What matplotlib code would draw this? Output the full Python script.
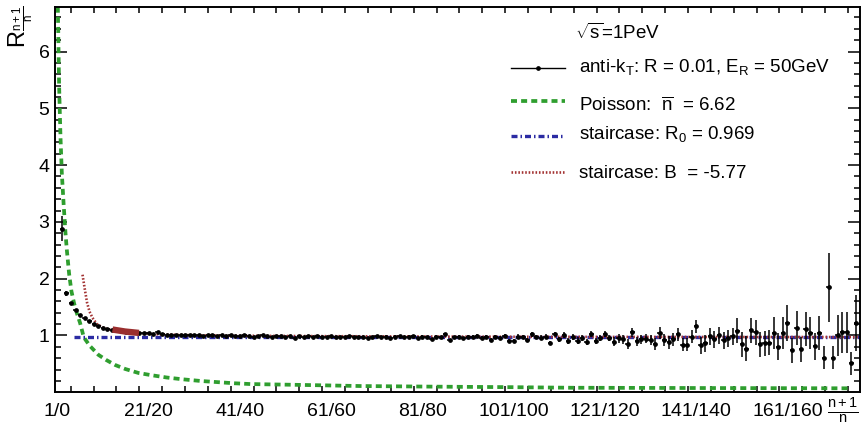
import numpy as np
import matplotlib
matplotlib.use('Agg')
import matplotlib.pyplot as plt

plt.rcParams['font.family'] = 'Liberation Sans'
plt.rcParams['mathtext.fontset'] = 'custom'
plt.rcParams['mathtext.rm'] = 'Liberation Sans'
plt.rcParams['mathtext.it'] = 'Liberation Sans:italic'
plt.rcParams['mathtext.default'] = 'regular'

# bin n holds R_(n+1)/n, bins 1..175
bin_index = np.arange(1, 176)
ratio = [
    2.88, 1.74, 1.57, 1.45, 1.36, 1.30, 1.25, 1.20, 1.16, 1.13,
    1.12, 1.10, 1.09, 1.08, 1.07, 1.07, 1.06, 1.05, 1.05, 1.05,
    1.02, 1.06, 1.02, 1.01, 1.01, 1.00, 1.01, 1.00, 1.00, 1.01,
    1.00, 0.99, 1.00, 1.00, 0.99, 1.00, 0.99, 1.00, 0.99, 0.99,
    1.00, 0.99, 0.98, 0.99, 1.00, 0.99, 0.98, 0.99, 0.99, 0.98,
    0.99, 0.95, 0.99, 0.98, 0.99, 0.98, 0.99, 0.97, 0.98, 0.99,
    0.98, 0.97, 0.98, 0.99, 0.98, 0.97, 0.98, 0.95, 0.98, 0.99,
    0.97, 0.98, 0.96, 0.98, 0.99, 0.97, 0.98, 0.99, 0.96, 0.98,
    0.97, 0.94, 0.98, 0.97, 1.02, 0.92, 0.97, 0.98, 0.96, 0.98,
    0.97, 0.99, 0.96, 0.97, 0.92, 0.98, 0.96, 0.99, 0.91, 0.91,
    0.98, 0.97, 0.92, 1.02, 0.97, 0.96, 0.98, 0.87, 1.03, 0.93,
    1.01, 0.90, 0.97, 0.91, 0.96, 0.89, 1.03, 0.90, 0.96, 1.02,
    0.95, 0.89, 0.95, 0.93, 0.85, 1.06, 0.90, 0.93, 0.94, 0.92,
    0.85, 1.04, 0.92, 0.88, 0.93, 1.02, 0.84, 0.84, 0.98, 1.16,
    0.83, 0.86, 0.99, 0.93, 1.00, 0.92, 0.95, 0.99, 1.08, 0.85,
    0.77, 1.09, 1.06, 0.85, 0.86, 0.87, 1.04, 0.80, 1.04, 1.22,
    0.74, 1.14, 0.76, 1.12, 1.04, 0.81, 1.05, 0.61, 1.85, 0.61,
    1.00, 1.06, 1.06, 0.51, 1.22,
]
ratio_err = [
    0.22, 0.05, 0.01, 0.01, 0.01, 0.01, 0.01, 0.01, 0.01, 0.01,
    0.01, 0.01, 0.01, 0.01, 0.01, 0.01, 0.01, 0.01, 0.01, 0.01,
    0.01, 0.01, 0.01, 0.01, 0.01, 0.01, 0.01, 0.01, 0.01, 0.01,
    0.01, 0.01, 0.01, 0.01, 0.01, 0.01, 0.01, 0.01, 0.01, 0.01,
    0.015, 0.015, 0.015, 0.015, 0.015, 0.015, 0.015, 0.015, 0.015, 0.015,
    0.015, 0.015, 0.015, 0.015, 0.015, 0.015, 0.015, 0.015, 0.015, 0.015,
    0.015, 0.015, 0.015, 0.015, 0.015, 0.015, 0.015, 0.015, 0.015, 0.015,
    0.02, 0.02, 0.02, 0.02, 0.02, 0.02, 0.02, 0.02, 0.02, 0.02,
    0.02, 0.02, 0.02, 0.02, 0.02, 0.02, 0.02, 0.02, 0.02, 0.02,
    0.03, 0.03, 0.03, 0.03, 0.03, 0.03, 0.03, 0.03, 0.03, 0.03,
    0.04, 0.04, 0.04, 0.04, 0.04, 0.04, 0.04, 0.04, 0.04, 0.04,
    0.055, 0.055, 0.055, 0.055, 0.055, 0.055, 0.055, 0.055, 0.055, 0.055,
    0.055, 0.08, 0.08, 0.08, 0.08, 0.08, 0.08, 0.08, 0.08, 0.08,
    0.11, 0.11, 0.11, 0.11, 0.11, 0.11, 0.11, 0.11, 0.11, 0.11,
    0.15, 0.15, 0.15, 0.15, 0.15, 0.15, 0.15, 0.15, 0.22, 0.22,
    0.22, 0.22, 0.22, 0.22, 0.22, 0.22, 0.28, 0.24, 0.28, 0.31,
    0.22, 0.30, 0.22, 0.30, 0.28, 0.24, 0.30, 0.20, 0.61, 0.20,
    0.36, 0.36, 0.36, 0.20, 0.50,
]

# fitted curves
poisson_x = [0.62, 0.9, 1.2, 1.5, 1.9, 2.3, 2.6, 3.1, 3.6, 4.2, 4.8, 5.5, 6.3,
             7.6, 9.5, 11.2, 13.2, 15.4, 18.3, 21.2, 24.5, 27.8, 31.8, 39.0,
             42.8, 53.7, 67, 82, 100, 113, 140, 174.5]
poisson_y = [6.79, 5.4, 4.5, 3.85, 3.3, 2.8, 2.5, 2.08, 1.78, 1.56, 1.39, 1.22,
             0.97, 0.82, 0.66, 0.57, 0.48, 0.41, 0.34, 0.30, 0.26, 0.23, 0.20,
             0.16, 0.145, 0.13, 0.11, 0.10, 0.09, 0.08, 0.075, 0.07]
stair_r0 = 0.969
stair_r0_x = [4.2, 176.5]
stairB_x = [6.03, 6.58, 7.02, 7.57, 8.22, 9.10, 10.20, 11.51, 12.6, 15.35, 18.4,
            23.0, 31.8, 53.7, 86.6, 119.5, 176.5]
stairB_y = [2.07, 1.79, 1.58, 1.42, 1.31, 1.21, 1.15, 1.11, 1.105, 1.07, 1.045,
            1.02, 1.00, 0.99, 0.98, 0.975, 0.972]
fit_x = [12.6, 15.35, 18.4]
fit_y = [1.105, 1.07, 1.045]

tick_bins = [0, 20, 40, 60, 80, 100, 120, 140, 160]
tick_labels = ['1/0', '21/20', '41/40', '61/60', '81/80', '101/100',
               '121/120', '141/140', '161/160']

green = '#2f9e2f'
blue = '#2b2ba3'
brown = '#a33333'
green_dash = (1.6, 1.1)
blue_dash = (1.8, 0.9, 0.45, 0.9)
brown_dash = (0.6, 0.7)

fig = plt.figure(figsize=(8.62, 4.29), dpi=100)
ax = fig.add_axes([55/862, 37/429, 805.5/862, 385.3/429])

ax.plot(poisson_x, poisson_y, color=green, lw=2.7, dashes=green_dash)
ax.plot(stair_r0_x, [stair_r0, stair_r0], color=blue, lw=2.4, dashes=blue_dash)
ax.plot(stairB_x, stairB_y, color=brown, lw=1.9, dashes=brown_dash)

x = bin_index + 0.5
ax.errorbar(x, ratio, yerr=ratio_err, xerr=0.5, fmt='o', ms=2.4,
            color='k', elinewidth=1.1, capsize=0)
ax.plot(fit_x, fit_y, color='#9a2e2e', lw=4.6, solid_capstyle='butt', zorder=5)

ax.set_xlim(0, 176.5)
ax.set_ylim(0.005, 6.79)

ax.set_xticks([b + 0.5 for b in tick_bins])
ax.set_xticklabels(tick_labels)
ax.set_xticks(np.arange(3.44, 176.5, 5.01), minor=True)
ax.set_yticks([1, 2, 3, 4, 5, 6])
ax.set_yticks(np.arange(0.2, 6.79, 0.2), minor=True)

ax.tick_params(axis='x', which='major', length=0, labelsize=14, pad=8)
ax.tick_params(axis='x', which='minor', length=4.2, width=1.1,
               direction='in', top=True, bottom=True)
ax.tick_params(axis='y', which='major', length=8.5, width=1.1,
               direction='in', left=True, right=True, labelsize=14, pad=4)
ax.tick_params(axis='y', which='minor', length=4.3, width=1.1,
               direction='in', left=True, right=True)
for s in ax.spines.values():
    s.set_linewidth(1.4)

# axis titles, ROOT style
fig.text(21/862, 1 - 5/429, r'$R_{\frac{n+1}{n}}$', rotation=90,
         ha='center', va='top', fontsize=17)
fig.text(843/862, 1 - 397/429, r'$\frac{n+1}{n}$', ha='center', va='top',
         fontsize=15)

# legend drawn by hand
tr = ax.transAxes
lx0, lx1, tx = 0.566, 0.633, 0.6505
ax.text(0.6456, 0.9154, r'$\sqrt{s}$=1PeV', transform=tr, fontsize=13.5,
        va='baseline')
rows = [
    (0.842, 0.8313, 'anti-k$_T$: R = 0.01, E$_R$ = 50GeV'),
    (0.756, 0.7293, r'Poisson:  $\overline{n}$  = 6.62'),
    (0.664, 0.6559, 'staircase: R$_0$ = 0.969'),
    (0.572, 0.5562, 'staircase: B  = -5.77'),
]
ax.plot([lx0, lx1], [rows[0][0]] * 2, color='k', lw=1.0, transform=tr)
ax.plot([(lx0 + lx1) / 2], [rows[0][0]], 'o', color='k', ms=2.4, transform=tr)
ax.plot([lx0, lx1], [rows[1][0]] * 2, color=green, lw=2.7, dashes=green_dash,
        transform=tr)
ax.plot([lx0, lx1], [rows[2][0]] * 2, color=blue, lw=2.4, dashes=blue_dash,
        transform=tr)
ax.plot([lx0, lx1], [rows[3][0]] * 2, color=brown, lw=1.9, dashes=brown_dash,
        transform=tr)
for ly, ty, label in rows:
    ax.text(tx, ty, label, transform=tr, fontsize=13.5, va='baseline')

fig.savefig('out.png', dpi=100)
